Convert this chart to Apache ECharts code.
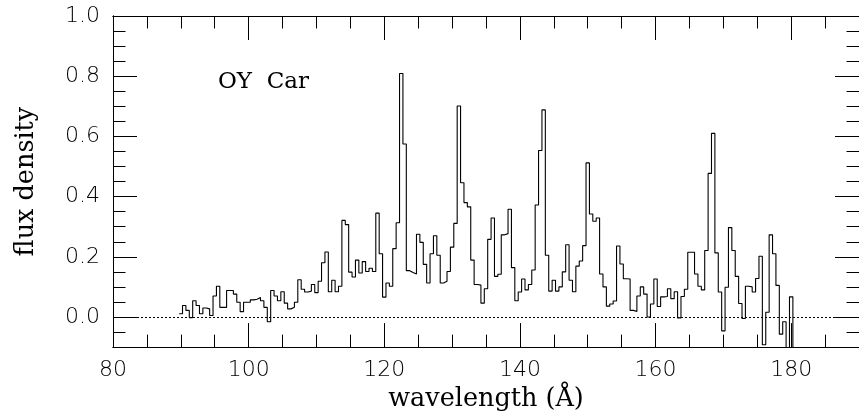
<!DOCTYPE html>
<html>
<head>
<meta charset="utf-8">
<title>OY Car</title>
<script src="https://cdn.jsdelivr.net/npm/echarts@6/dist/echarts.min.js"></script>
<style>
  html, body { margin: 0; padding: 0; background: #fff; }
  #chart { width: 859px; height: 417px; }
</style>
</head>
<body>
<div id="chart"></div>
<script>
  // spectrum binned at 0.5 A, first bin centred on 90.0 A
  var firstBinCentre = 90.0;
  var binWidth = 0.5;
  var flux = [
    0.011, 0.038, 0.022, -0.002, 0.054, 0.038, 0.011, 0.030, 0.027, 0.005,
    0.070, 0.102, 0.032, 0.032, 0.088, 0.088, 0.076, 0.049, 0.018, 0.049,
    0.049, 0.057, 0.059, 0.065, 0.054, 0.032, -0.016, 0.088, 0.070, 0.054,
    0.084, 0.046, 0.027, 0.032, 0.049, 0.124, 0.092, 0.083, 0.086, 0.108,
    0.081, 0.119, 0.180, 0.216, 0.084, 0.122, 0.084, 0.102, 0.321, 0.307,
    0.149, 0.133, 0.189, 0.146, 0.184, 0.151, 0.162, 0.151, 0.345, 0.210,
    0.066, 0.113, 0.102, 0.227, 0.313, 0.809, 0.575, 0.154, 0.148, 0.143,
    0.275, 0.248, 0.175, 0.113, 0.210, 0.270, 0.205, 0.113, 0.119, 0.151,
    0.232, 0.311, 0.701, 0.446, 0.380, 0.366, 0.189, 0.108, 0.106, 0.046,
    0.094, 0.258, 0.329, 0.135, 0.142, 0.273, 0.277, 0.358, 0.164, 0.054,
    0.083, 0.126, 0.090, 0.108, 0.156, 0.372, 0.553, 0.688, 0.205, 0.086,
    0.122, 0.086, 0.100, 0.150, 0.240, 0.122, 0.084, 0.169, 0.186, 0.237,
    0.512, 0.342, 0.318, 0.329, 0.143, 0.100, 0.036, 0.043, 0.053, 0.236,
    0.176, 0.127, 0.126, 0.022, 0.018, 0.070, 0.100, 0.076, 0.000, 0.043,
    0.126, 0.035, 0.067, 0.068, 0.094, 0.061, 0.084, -0.003, 0.068, 0.092,
    0.215, 0.215, 0.143, 0.102, 0.090, 0.221, 0.477, 0.610, 0.213, 0.083,
    -0.046, 0.099, 0.297, 0.221, 0.135, 0.045, -0.005, 0.102, 0.100, 0.083,
    0.128, 0.202, -0.092, 0.016, 0.273, 0.210, 0.105, -0.057, -0.016, -0.250,
    0.067, -0.250
  ];

  var xMajorTicks = [80, 100, 120, 140, 160, 180];
  var xMinorTicks = [85, 90, 95, 105, 110, 115, 125, 130, 135, 145, 150, 155, 165, 170, 175, 185];
  var yMajorTicks = [0.0, 0.2, 0.4, 0.6, 0.8, 1.0];
  var yMinorTicks = [-0.05, 0.05, 0.1, 0.15, 0.25, 0.3, 0.35, 0.45, 0.5, 0.55, 0.65, 0.7, 0.75, 0.85, 0.9, 0.95];

  // histogram outline: each bin drawn from its left edge to its right edge
  var stepData = [];
  for (var i = 0; i < flux.length; i++) {
    var lo = firstBinCentre + i * binWidth - binWidth / 2;
    stepData.push([lo, flux[i]]);
    stepData.push([lo + binWidth, flux[i]]);
  }

  var tickFont = 'DejaVu Sans';
  var nameFont = 'DejaVu Serif';

  function xAxisDef (pos, ticks, len, withLabels) {
    return {
      type: 'value', position: pos, min: 80, max: 190,
      axisLine: { show: true, onZero: false, lineStyle: { color: '#000', width: 1 } },
      axisTick: { show: true, inside: true, length: len, customValues: ticks, lineStyle: { color: '#000', width: 1 } },
      axisLabel: withLabels ? {
        show: true, customValues: ticks, margin: 12, color: '#000',
        fontFamily: tickFont, fontWeight: 200, fontSize: 22
      } : { show: false },
      splitLine: { show: false }
    };
  }
  function yAxisDef (pos, ticks, len, withLabels) {
    return {
      type: 'value', position: pos, min: -0.1, max: 1.0,
      axisLine: { show: true, onZero: false, lineStyle: { color: '#000', width: 1 } },
      axisTick: { show: true, inside: true, length: len, customValues: ticks, lineStyle: { color: '#000', width: 1 } },
      axisLabel: withLabels ? {
        show: true, customValues: ticks, margin: 13, color: '#000',
        fontFamily: tickFont, fontWeight: 200, fontSize: 22,
        formatter: function (v) { return v.toFixed(1); }
      } : { show: false },
      splitLine: { show: false }
    };
  }

  var xMain = xAxisDef('bottom', xMajorTicks, 24, true);
  xMain.name = 'wavelength (Å)';
  xMain.nameLocation = 'middle';
  xMain.nameGap = 33;
  xMain.nameTextStyle = { color: '#000', fontFamily: nameFont, fontSize: 25.5 };

  var yMain = yAxisDef('left', yMajorTicks, 24, true);
  yMain.name = 'flux density';
  yMain.nameLocation = 'middle';
  yMain.nameGap = 74;
  yMain.nameTextStyle = { color: '#000', fontFamily: nameFont, fontSize: 25.5 };

  var chart = echarts.init(document.getElementById('chart'), null, { renderer: 'canvas' });
  chart.setOption({
    animation: false,
    backgroundColor: '#fff',
    grid: { left: 113, top: 16, width: 753, height: 340, containLabel: false },
    xAxis: [
      xMain,
      xAxisDef('bottom', xMinorTicks, 12.5, false),
      xAxisDef('top', xMajorTicks, 24, false),
      xAxisDef('top', xMinorTicks, 12.5, false)
    ],
    yAxis: [
      yMain,
      yAxisDef('left', yMinorTicks, 12.5, false),
      yAxisDef('right', yMajorTicks, 24, false),
      yAxisDef('right', yMinorTicks, 12.5, false)
    ],
    graphic: [{
      type: 'text', left: 218, top: 71,
      style: { text: 'OY  Car', fill: '#000', font: '23px "DejaVu Serif"' }
    }],
    series: [{
      type: 'line',
      xAxisIndex: 0, yAxisIndex: 0,
      data: stepData,
      showSymbol: false,
      clip: true,
      lineStyle: { color: '#000', width: 1.1 },
      markLine: {
        silent: true,
        symbol: ['none', 'none'],
        label: { show: false },
        lineStyle: { color: '#000', width: 1, type: [2, 2] },
        data: [{ yAxis: 0 }]
      }
    }]
  });
</script>
</body>
</html>
